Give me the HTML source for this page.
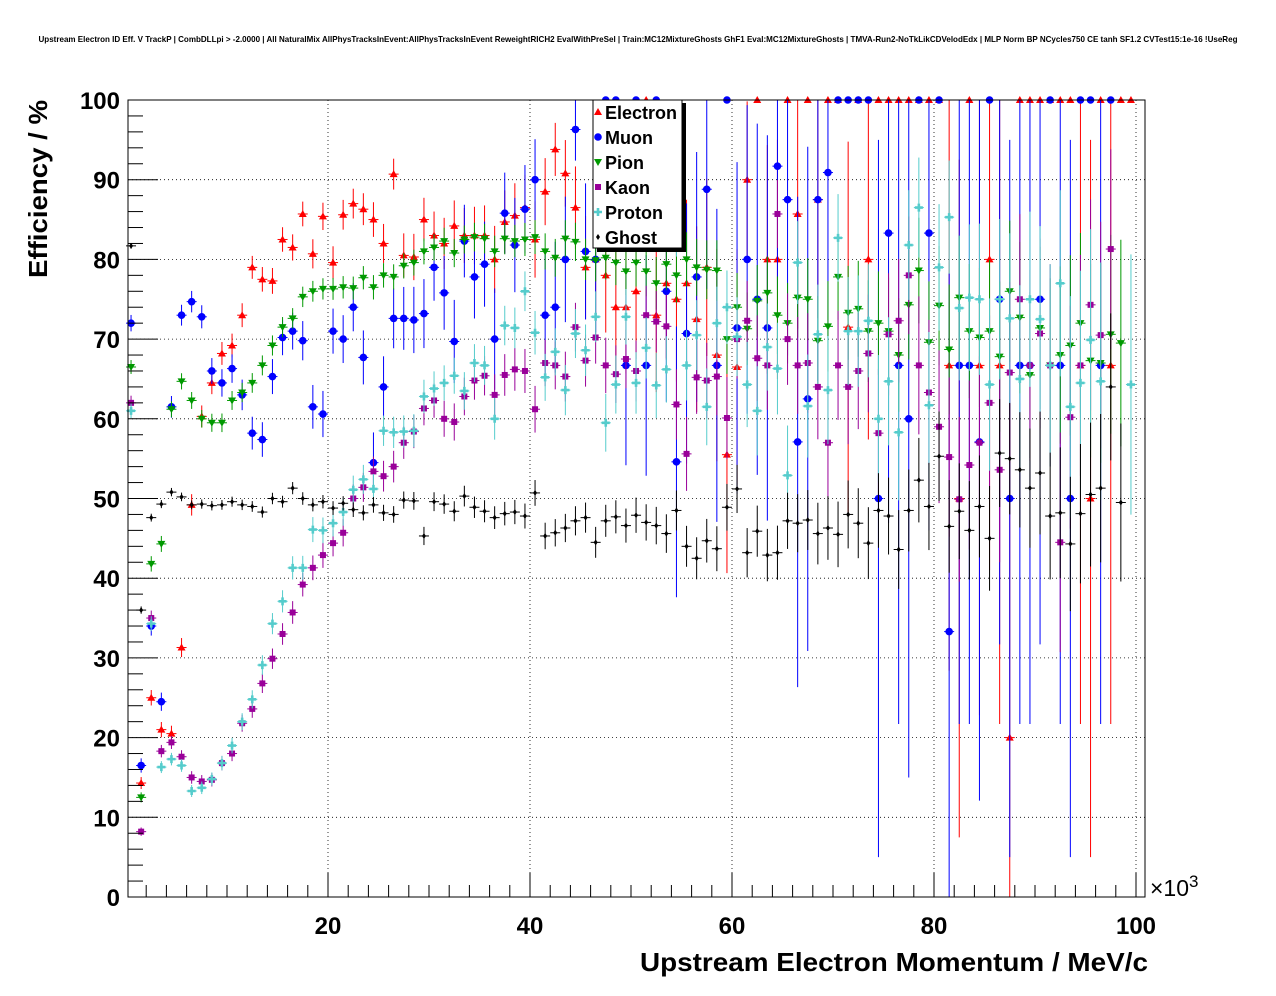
<!DOCTYPE html>
<html><head><meta charset="utf-8"><style>
body{margin:0;background:#fff;font-family:"Liberation Sans",sans-serif;}
svg{display:block}
</style></head><body>
<svg id="chart" width="1276" height="996" xmlns="http://www.w3.org/2000/svg">
<rect width="1276" height="996" fill="#fff"/>
<text x="638" y="42" font-size="8.1" font-weight="bold" text-anchor="middle" font-family="Liberation Sans" textLength="1199" lengthAdjust="spacingAndGlyphs">Upstream Electron ID Eff. V TrackP | CombDLLpi &gt; -2.0000 | All NaturalMix AllPhysTracksInEvent:AllPhysTracksInEvent ReweightRICH2 EvalWithPreSel | Train:MC12MixtureGhosts GhF1 Eval:MC12MixtureGhosts | TMVA-Run2-NoTkLikCDVelodEdx | MLP Norm BP NCycles750 CE tanh SF1.2 CVTest15:1e-16 !UseReg</text>
<g id="grid"></g>
<g id="marks"></g>
<rect x="128" y="100" width="1017" height="797" fill="none" stroke="#000" stroke-width="1"/>
<g id="axes"></g>
<text transform="translate(47,278) rotate(-90)" font-size="26" font-weight="bold" textLength="178" lengthAdjust="spacingAndGlyphs">Efficiency / %</text>
<text x="640" y="971" font-size="26" font-weight="bold" textLength="508" lengthAdjust="spacingAndGlyphs">Upstream Electron Momentum / MeV/c</text>
<text x="1150" y="896" font-size="23">×10<tspan font-size="17" dy="-9">3</tspan></text>
<g id="legend">
<rect x="597" y="103" width="89" height="149" fill="#000"/>
<rect x="593" y="100" width="89" height="148" fill="#fff" stroke="#000"/>
</g>
</svg>
<script>
const categories=[];for(let i=0;i<100;i++)categories.push(i+0.5);
const electron=[null,14.3,25,21,20.5,31.3,49.2,60.3,64.5,68.2,69.2,73,79,77.5,77.3,82.5,81.5,85.7,80.7,85.4,79.6,85.6,87,86.3,85,82,90.7,80.5,80.3,85,83,82,84.2,83,83,83,80,84.7,85.5,86.5,82.5,88.5,93.8,90.8,86.5,79,80,78,74,74,76,100,73,77,75,77,72.5,79,68,55.5,66.5,90,100,80,80,100,85.7,100,87.5,100,100,71.5,100,80,100,100,100,100,100,100,100,66.7,50,100,66.7,80,66.7,20,100,100,100,100,100,100,66.7,50,100,66.7,100,100];
const muon=[72,16.5,34,24.5,61.5,73,74.7,72.8,66,64.5,66.3,63,58.2,57.4,65.3,70.2,71,69.8,61.5,60.6,71,70,74,67.7,54.5,64,72.6,72.6,72.4,73.2,79,75.8,69.7,82.3,77.8,79.4,70,85.8,81.8,86.3,90,73,74,80,96.3,81,80,100,100,66.7,100,66.7,100,76,54.6,70.7,77.8,88.8,66.7,100,71.4,80,75,71.4,91.7,87.5,57.1,62.5,87.5,90.9,100,100,100,100,50,83.3,66.7,60,100,83.3,100,33.3,66.7,66.7,57.1,100,75,50,66.7,66.7,75,100,66.7,50,100,100,66.7,100,null,null];
const pion=[66.5,12.5,41.8,44.3,61.2,64.7,62.3,60,59.5,59.5,62.3,63.3,64.5,66.7,69.2,71.5,72.6,75.3,76,76.3,76.3,76.5,76.4,77.7,76.5,78,77.8,79.2,79.6,81,81.5,82.3,80.8,82.5,82.8,82.6,81,82.6,82.3,82.5,82.8,81,80.2,82.6,82.2,80,79.9,80.2,79.6,78.5,79.6,78.5,77,79.4,78,80,79,78.7,78.6,70,74,71.3,74.8,75.8,73,72,75.2,75,69.8,71.6,77.8,73.3,73.8,71,72,71,68,74.3,78.6,69.6,74.2,68.7,75.2,71,70.2,71,67.8,76,72.7,65.5,71.4,66.7,68,69.2,72,67.3,67,70.6,69.5,null];
const kaon=[62,8.2,35,18.3,19.4,17.6,15,14.5,14.7,16.8,18,21.8,23.6,26.8,29.9,33,35.7,39.2,41.3,42.9,44.4,45.7,50,51.4,53.4,52.8,54,57,58.4,61.3,62.3,60,59.6,62.8,64.8,65.4,63,65.5,66.2,66,61.2,67,66.7,65.3,71.5,67.3,70.2,66.7,65.6,67.5,66,73,72.2,71.6,61.8,55.6,65.2,64.8,65.3,60.1,70,72.3,67.6,66.7,85.7,70,66.7,67,64,57,66.7,64,66,68.2,58.2,70.6,72.3,78,66.7,63.3,59,55.2,49.9,54.2,57,62,53.6,65.8,75,66.7,70.7,66.7,44.5,60.2,66.7,74.3,70.5,81.3,null,null];
const proton=[61,null,34.3,16.3,17.3,16.5,13.3,13.7,14.8,16.8,19,22,24.8,29.1,34.3,37.1,41.3,41.3,46.1,46,46.9,48.3,51.1,52.4,51.2,58.5,58.3,58.4,58.5,62.8,63.8,64.5,65.4,63.5,67,66.7,60,71.7,71.4,76,70.8,65.2,68.4,63.6,70.7,68.6,72.8,59.5,64.3,72.8,64.5,68.9,64.2,66.2,83.7,66.7,70.5,61.5,72,74,70.3,64.3,61,69,66.3,52.9,79.6,61.6,70.6,63.6,82.7,71,71,72.3,60,64.7,58.3,81.8,86.5,61.7,79,85.3,73.9,75.2,75,64.3,75,72.6,65,75,72.5,66.7,77,61.5,64.5,69.9,64.7,null,null,64.3];
const ghost=[81.7,36,47.6,49.3,50.8,50.2,49.2,49.3,49.1,49.2,49.6,49.2,49,48.3,50,49.6,51.3,50,49.2,49.6,48.8,49.4,48.6,48.2,49.2,48.2,48,49.8,49.7,45.3,49.6,49.3,48.4,50.3,48.9,48.4,47.6,48.1,48.3,47.8,50.7,45.3,45.7,46.3,47.2,47.6,44.5,47.2,47.7,46.6,47.9,47,46.6,45.6,48.5,44,42.5,44.7,43.7,48.9,51.2,43.2,45.9,42.9,43.2,47.2,46.9,47.3,45.6,46.3,45.5,48,46.9,44.4,48.5,47.8,43.6,48.5,52.3,49,55.3,46.5,48.4,46,49,45,55.7,55,53.6,51.3,53.2,47.8,48.2,44.3,48.1,50.5,51.3,64,49.5,null];
const entries=[2500,2000,3000,3000,3000,12000];
const decay=[11,10,18,17,17,16];
const xTicks=[20,40,60,80,100];
const yTicks=[0,10,20,30,40,50,60,70,80,90,100];
const names=["Electron","Muon","Pion","Kaon","Proton","Ghost"];
const colors=["#ff0000","#0000ff","#009900","#990099","#55cccc","#000000"];
const series=[electron,muon,pion,kaon,proton,ghost];
const X=v=>126+10.1*v, Y=v=>897-7.97*v;
const NS="http://www.w3.org/2000/svg";
function mk(t,a,p){const e=document.createElementNS(NS,t);for(const k in a)e.setAttribute(k,a[k]);p.appendChild(e);return e;}
const grid=document.getElementById('grid'),axes=document.getElementById('axes'),marks=document.getElementById('marks'),leg=document.getElementById('legend');
xTicks.forEach(t=>{const x=X(t);
 const g=mk('line',{x1:x,x2:x,y1:100,y2:897,stroke:'#000','stroke-dasharray':'1,3','stroke-width':0.8},grid);
 
 
 mk('line',{x1:x,x2:x,y1:897,y2:873,stroke:'#000'},axes);
 const l=mk('text',{x:x,y:934,'font-size':24,'font-weight':'bold','text-anchor':'middle'},axes);l.textContent=t;
 
 });
for(let v=2;v<=100;v+=2){if(v%20)mk('line',{x1:X(v),x2:X(v),y1:897,y2:885,stroke:'#000'},axes);}
yTicks.forEach(t=>{const y=Y(t);
 if(t>0&&t<100){const g=mk('line',{x1:128,x2:1145,y1:y,y2:y,stroke:'#000','stroke-dasharray':'1,3','stroke-width':0.8},grid);
 
 }
 mk('line',{x1:128,x2:158,y1:y,y2:y,stroke:'#000'},axes);
 const l=mk('text',{x:120,y:y+9,'font-size':24,'font-weight':'bold','text-anchor':'end'},axes);l.textContent=t;
 
 });
for(let v=2;v<100;v+=2){if(v%10)mk('line',{x1:128,x2:143,y1:Y(v),y2:Y(v),stroke:'#000'},axes);}
function marker(k,x,y,c,p){
 if(k==0)return mk('polygon',{points:`${x},${y-4} ${x-4},${y+3} ${x+4},${y+3}`,fill:c},p);
 if(k==1)return mk('circle',{cx:x,cy:y,r:3.8,fill:c},p);
 if(k==2)return mk('polygon',{points:`${x},${y+4} ${x-4},${y-3} ${x+4},${y-3}`,fill:c},p);
 if(k==3)return mk('rect',{x:x-3,y:y-3,width:6,height:6,fill:c},p);
 if(k==4)return mk('path',{d:`M${x-4} ${y-1.3}h2.7v-2.7h2.6v2.7h2.7v2.6h-2.7v2.7h-2.6v-2.7h-2.7z`,fill:c},p);
 return mk('polygon',{points:`${x},${y-3} ${x-2},${y} ${x},${y+3} ${x+2},${y}`,fill:c},p);}
series.forEach((s,k)=>{const c=colors[k];
 s.forEach((v,i)=>{if(v==null)return;const x=X(categories[i]),y=Y(v);
  const p=v/100, n=entries[k]*Math.exp(-categories[i]/decay[k]);
  const e=v>=100?0:Math.min(45,100*Math.sqrt(Math.max(p*(1-p),0.01)/Math.max(n,1)));
  const g=mk('g',{},marks);
  
  
  mk('line',{x1:x-5,x2:x+5,y1:y,y2:y,stroke:c},g);
  if(e>0)mk('line',{x1:x,x2:x,y1:Math.max(100,Y(Math.min(100,v+e))),y2:Math.min(897,Y(Math.max(0,v-e))),stroke:c},g);
  marker(k,x,y,c,g);});});
names.forEach((n,k)=>{const y=112+25*k;const g=mk('g',{},leg);
 
 
 marker(k,598,y,colors[k],g);
 const t=mk('text',{x:605,y:y+7,'font-size':18,'font-weight':'bold'},g);t.textContent=n;});
</script>
</body></html>
